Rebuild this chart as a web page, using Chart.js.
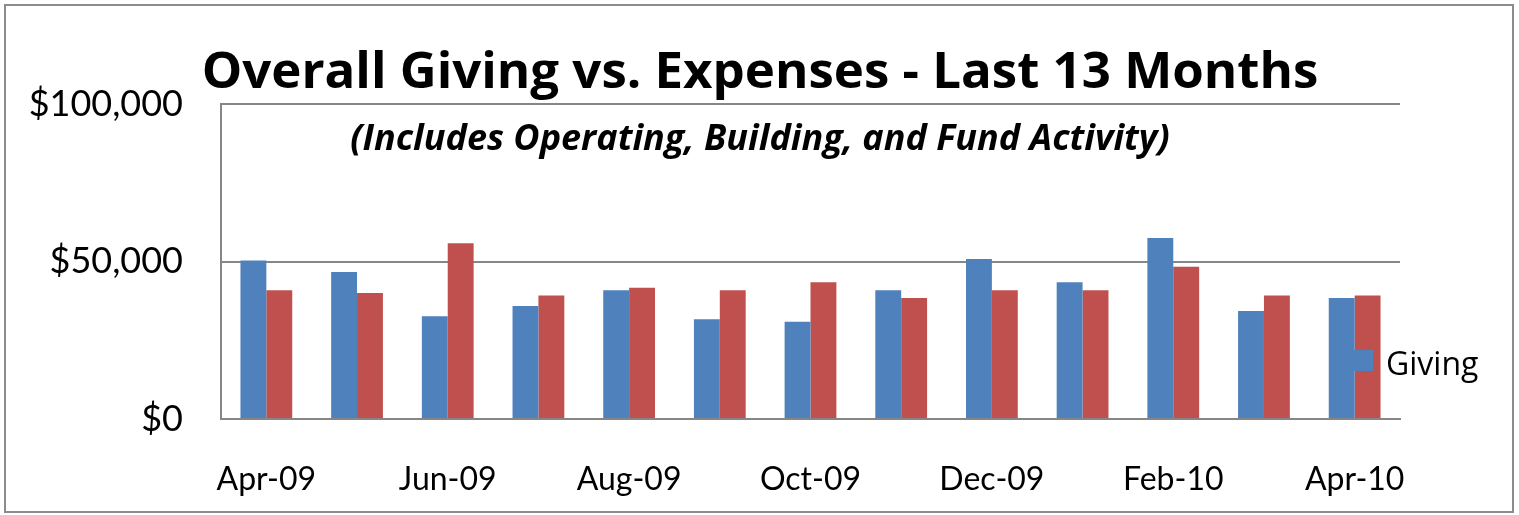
<!DOCTYPE html>
<html>
<head>
<meta charset="utf-8">
<script src="https://cdn.jsdelivr.net/npm/chart.js@4"></script>
<style>
  html, body { margin: 0; padding: 0; background: #fff; }
  #wrap { width: 1519px; height: 515px; }
</style>
</head>
<body>
<div id="wrap"><canvas id="giving-chart"></canvas></div>
<script>
const months = ["Apr-09", "May-09", "Jun-09", "Jul-09", "Aug-09", "Sep-09", "Oct-09",
  "Nov-09", "Dec-09", "Jan-10", "Feb-10", "Mar-10", "Apr-10"];
const giving = [50300, 46700, 32600, 35900, 40900, 31700, 30900, 40900, 50800, 43400, 57500, 34300, 38400];
const expenses = [40900, 40000, 55800, 39200, 41700, 40900, 43400, 38400, 40900, 40900, 48300, 39200, 39200];
const yTicks = [0, 50000, 100000];

const titleText = "Overall Giving vs. Expenses - Last 13 Months";
const subtitleText = "(Includes Operating, Building, and Fund Activity)";

// Frame, titles and the single visible legend entry
const decorations = {
  id: "decorations",
  beforeDraw(chart) {
    const ctx = chart.ctx;
    ctx.save();
    ctx.strokeStyle = "#8c8c8c";
    ctx.lineWidth = 2;
    ctx.strokeRect(5, 5, 1508, 507);
    ctx.restore();
  },
  afterDraw(chart) {
    const ctx = chart.ctx;
    ctx.save();
    ctx.fillStyle = "#000";
    ctx.textAlign = "center";
    ctx.textBaseline = "alphabetic";
    ctx.font = "bold 51px 'Open Sans'";
    ctx.fillText(titleText, 760, 88);
    ctx.font = "italic bold 36px 'Open Sans'";
    ctx.fillText(subtitleText, 760, 150);

    // legend: only "Giving" is visible
    const ds = chart.data.datasets[0];
    ctx.fillStyle = ds.backgroundColor;
    ctx.fillRect(1354, 350, 19, 21);
    ctx.fillStyle = "#000";
    ctx.textAlign = "left";
    ctx.font = "32px 'Open Sans'";
    ctx.fillText(ds.label, 1386, 375);
    ctx.restore();
  },
};

const ctx = document.getElementById("giving-chart").getContext("2d");
new Chart(ctx, {
  type: "bar",
  data: {
    labels: months,
    datasets: [
      { label: "Giving", data: giving, backgroundColor: "#4F81BD", borderWidth: 0 },
      { label: "Expenses", data: expenses, backgroundColor: "#C0504D", borderWidth: 0 },
    ],
  },
  options: {
    responsive: true,
    maintainAspectRatio: false,
    animation: false,
    layout: { padding: { left: 0, right: 119, top: 104, bottom: 0 } },
    datasets: { bar: { categoryPercentage: 0.571, barPercentage: 1 } },
    plugins: {
      legend: { display: false },
      tooltip: { enabled: false },
    },
    scales: {
      x: {
        grid: { display: false, drawTicks: false },
        border: { display: true, color: "#868686", width: 2 },
        afterFit: (scale) => { scale.height = 96; },
        ticks: {
          autoSkip: false,
          maxRotation: 0,
          padding: 41,
          color: "#000",
          font: { family: "Lato", size: 32 },
          callback: (v, i) => (i % 2 === 0 ? months[i] : ""),
        },
      },
      y: {
        min: 0,
        max: 100000,
        afterFit: (scale) => { scale.width = 221; },
        afterBuildTicks: (scale) => { scale.ticks = yTicks.map((v) => ({ value: v })); },
        grid: { color: "#868686", lineWidth: 2, drawTicks: false },
        border: { display: true, color: "#868686", width: 2 },
        ticks: {
          padding: 38,
          color: "#000",
          font: { family: "Lato", size: 36 },
          callback: (v) => "$" + Number(v).toLocaleString("en-US"),
        },
      },
    },
  },
  plugins: [decorations],
});
</script>
</body>
</html>
